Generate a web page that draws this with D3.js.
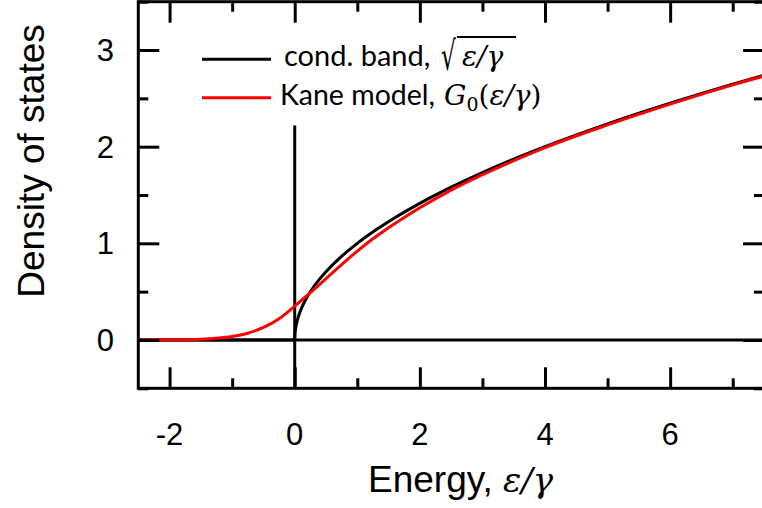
<!DOCTYPE html>
<html>
<head>
<meta charset="utf-8">
<script src="https://cdn.jsdelivr.net/npm/d3@7"></script>
<style>
  html, body { margin: 0; padding: 0; background: #fff; }
  svg { display: block; }
</style>
</head>
<body>
<svg id="chart" width="762" height="508"></svg>
<script>
// ---- data ----
const condX = [-2.5, 0, 0.002, 0.01, 0.03, 0.06, 0.1, 0.15, 0.2, 0.3, 0.4, 0.5, 0.7, 1, 1.3, 1.6, 2, 2.5, 3, 3.5, 4, 5, 6, 7, 7.5];
const condY = [0, 0, 0.045, 0.1, 0.173, 0.245, 0.316, 0.387, 0.447, 0.548, 0.632, 0.707, 0.837, 1, 1.14, 1.265, 1.414, 1.581, 1.732, 1.871, 2, 2.236, 2.449, 2.646, 2.739];
const kaneX = [-2.5, -2, -1.5, -1.25, -1, -0.75, -0.5, -0.25, 0, 0.25, 0.5, 0.75, 1, 1.25, 1.5, 1.75, 2, 2.5, 3, 3.5, 4, 5, 6, 7, 7.5];
const kaneY = [0, 0.002, 0.008, 0.017, 0.035, 0.07, 0.13, 0.22, 0.35, 0.49, 0.635, 0.78, 0.92, 1.047, 1.162, 1.268, 1.368, 1.55, 1.71, 1.855, 1.99, 2.225, 2.44, 2.64, 2.73];
const xMajorTicks = [-2, 0, 2, 4, 6];
const xMinorTicks = [-1, 1, 3, 5, 7];
const yMajorTicks = [0, 1, 2, 3];
const yMinorTicks = [-0.5, 0.5, 1.5, 2.5, 3.5];
const zeroMarkerTop = 2.22;
const xTitle = "Energy, ";
const yTitle = "Density of states";
const legendLabels = ["cond. band, ", "Kane model, "];

// ---- layout ----
const svg = d3.select("#chart");
const x = d3.scaleLinear().domain([-2.5, 7.5]).range([138.3, 764]);
const y = d3.scaleLinear().domain([-0.5, 3.5]).range([388.3, 1.7]);
const majorLen = 21, minorLen = 10, sw = 3;

const line = d3.line().x(d => x(d[0])).y(d => y(d[1])).curve(d3.curveMonotoneX);

svg.append("clipPath").attr("id", "clip")
  .append("rect").attr("x", x(-2.5)).attr("y", y(3.5)).attr("width", x(7.5) - x(-2.5)).attr("height", y(-0.5) - y(3.5));

const plot = svg.append("g").attr("clip-path", "url(#clip)");

// reference lines
plot.append("line").attr("x1", x(-2.5)).attr("x2", x(7.5)).attr("y1", y(0)).attr("y2", y(0))
  .attr("stroke", "#000").attr("stroke-width", sw);
plot.append("line").attr("x1", x(0)).attr("x2", x(0)).attr("y1", y(-0.5)).attr("y2", y(zeroMarkerTop))
  .attr("stroke", "#000").attr("stroke-width", sw);

// curves
plot.append("path").datum(condX.map((v, i) => [v, condY[i]]))
  .attr("d", line).attr("fill", "none").attr("stroke", "#000").attr("stroke-width", sw);
plot.append("path").datum(kaneX.map((v, i) => [v, kaneY[i]]))
  .attr("d", line).attr("fill", "none").attr("stroke", "#ff0000").attr("stroke-width", sw);

// axes with inward ticks on all four sides
function axisPair(axisFn, scale, major, minor, transform) {
  const gMaj = svg.append("g").attr("transform", transform)
    .call(axisFn(scale).tickValues(major).tickSize(majorLen).tickFormat(""));
  const gMin = svg.append("g").attr("transform", transform)
    .call(axisFn(scale).tickValues(minor).tickSize(minorLen).tickFormat(""));
  [gMaj, gMin].forEach(g => {
    g.selectAll("line").attr("stroke", "#000").attr("stroke-width", sw);
    g.select(".domain").attr("d", null);
  });
}
axisPair(d3.axisTop, x, xMajorTicks, xMinorTicks, `translate(0,${y(-0.5)})`);
axisPair(d3.axisBottom, x, xMajorTicks, xMinorTicks, `translate(0,${y(3.5)})`);
axisPair(d3.axisRight, y, yMajorTicks, yMinorTicks, `translate(${x(-2.5)},0)`);
axisPair(d3.axisLeft, y, yMajorTicks, yMinorTicks, `translate(${x(7.5)},0)`);

// frame
svg.append("rect").attr("x", x(-2.5)).attr("y", y(3.5))
  .attr("width", x(7.5) - x(-2.5)).attr("height", y(-0.5) - y(3.5))
  .attr("fill", "none").attr("stroke", "#000").attr("stroke-width", sw);

// tick labels
const labelFont = "'Liberation Sans', Arial, sans-serif";
svg.append("g").selectAll("text").data(xMajorTicks).join("text")
  .attr("x", d => x(d)).attr("y", 445)
  .attr("text-anchor", "middle").attr("font-family", labelFont).attr("font-size", 31)
  .text(d => d < 0 ? "-" + Math.abs(d) : d);
svg.append("g").selectAll("text").data(yMajorTicks).join("text")
  .attr("x", 114).attr("y", d => y(d) + 11)
  .attr("text-anchor", "end").attr("font-family", labelFont).attr("font-size", 31)
  .text(d => d);

// axis titles
const xt = svg.append("text").attr("x", 368).attr("y", 492)
  .attr("font-family", labelFont).attr("font-size", 37);
xt.append("tspan").text(xTitle);
xt.append("tspan").attr("font-family", "'DejaVu Serif', serif").attr("font-style", "italic").attr("font-size", 34).text("ε/γ");

svg.append("text").attr("transform", `translate(44,161) rotate(-90)`)
  .attr("text-anchor", "middle").attr("font-family", labelFont).attr("font-size", 37)
  .text(yTitle);

// legend
const legFont = "Lato, 'Open Sans', sans-serif";
const mathFont = "'DejaVu Serif', 'Liberation Serif', serif";
const legY = [59.3, 97.7];
const legColors = ["#000", "#ff0000"];
legY.forEach((ly, i) => {
  svg.append("line").attr("x1", 202).attr("x2", 271).attr("y1", ly).attr("y2", ly)
    .attr("stroke", legColors[i]).attr("stroke-width", sw);
});
svg.append("text").attr("x", 284).attr("y", 66).attr("font-family", legFont).attr("font-size", 29)
  .text(legendLabels[0]);
svg.append("text").attr("transform", "translate(441,70) scale(0.58,1)").attr("font-family", mathFont).attr("font-size", 40)
  .text("√");
svg.append("text").attr("x", 462).attr("y", 66).attr("font-family", mathFont).attr("font-size", 28)
  .attr("font-style", "italic").text("ε/γ");
svg.append("line").attr("x1", 457).attr("x2", 516).attr("y1", 37).attr("y2", 37)
  .attr("stroke", "#000").attr("stroke-width", 1.8);

svg.append("text").attr("x", 280).attr("y", 105).attr("font-family", legFont).attr("font-size", 28.5)
  .text(legendLabels[1]);
const t2m = svg.append("text").attr("x", 444).attr("y", 105).attr("font-family", mathFont).attr("font-size", 28);
t2m.append("tspan").attr("font-style", "italic").text("G");
t2m.append("tspan").attr("font-size", 19).attr("dy", 6).text("0");
t2m.append("tspan").attr("dy", -6).text("(");
t2m.append("tspan").attr("font-style", "italic").text("ε/γ");
t2m.append("tspan").text(")");
</script>
</body>
</html>
